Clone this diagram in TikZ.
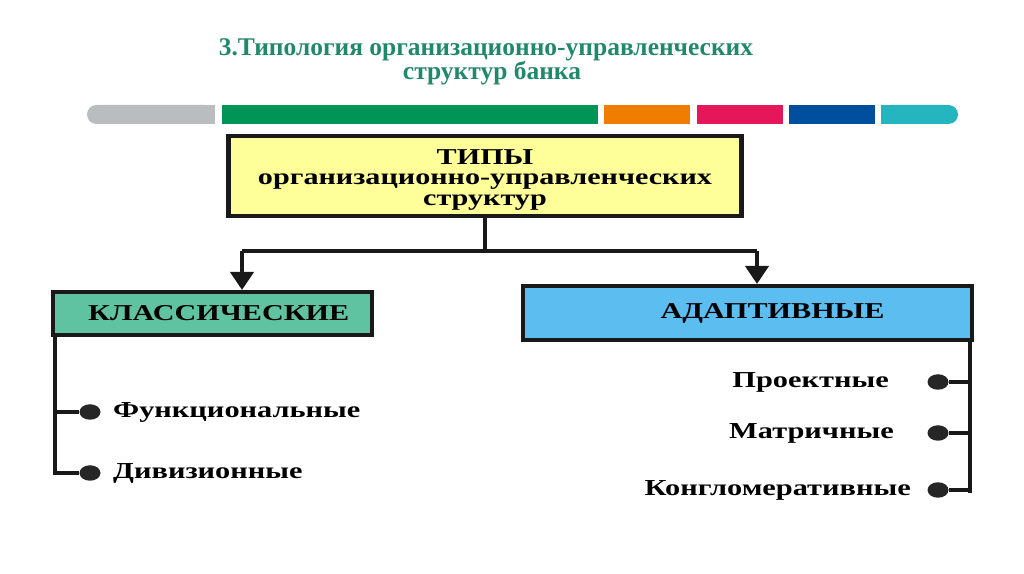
\documentclass[tikz,border=0pt]{standalone}
\usepackage{fontspec}
\setmainfont{Liberation Serif}
\usetikzlibrary{arrows.meta,positioning,shapes.geometric}
\definecolor{tyhead}{HTML}{21896B}
\definecolor{tyyellow}{HTML}{FFFF99}
\definecolor{tyclassic}{HTML}{5FC3A2}
\definecolor{tyadapt}{HTML}{5BBDF0}
\definecolor{bargray}{HTML}{B9BDC0}
\definecolor{bargreen}{HTML}{009456}
\definecolor{barorange}{HTML}{F07D00}
\definecolor{barpink}{HTML}{E5175A}
\definecolor{barblue}{HTML}{004F9F}
\definecolor{barteal}{HTML}{25B5BE}
\tikzset{
  hdr/.style={text=tyhead, align=center, font=\bfseries\fontsize{14.5}{13.6}\selectfont},
  topbox/.style={draw=black!90, line width=2.3pt, fill=tyyellow, align=center, minimum width=10.26cm, minimum height=1.56cm, font=\bfseries\fontsize{12.9}{11.6}\selectfont\addfontfeatures{FakeStretch=1.33}},
  catbox/.style={draw=black!90, line width=2.3pt, minimum height=8.6mm, font=\bfseries\fontsize{12.9}{13}\selectfont\addfontfeatures{FakeStretch=1.33}},
  item/.style={inner sep=0pt, font=\bfseries\fontsize{13}{13}\selectfont\addfontfeatures{FakeStretch=1.33}},
  dot/.style={ellipse, fill=black!85, minimum width=4.2mm, minimum height=3.1mm, inner sep=0pt},
  link/.style={line width=2.3pt, color=black!90},
  arr/.style={link, -{Triangle[width=4.6mm,length=3.6mm]}},
}
\begin{document}
\begin{tikzpicture}[x=0.2mm,y=-0.2mm]
  \useasboundingbox (0,0) rectangle (1024,574);
  \node[hdr] (title) at (486,62) {3.Типология организационно-управленческих\\\hspace*{2.4mm}структур банка};
  % colour strip
  \fill[bargray, rounded corners=1.9mm] (87,105) rectangle (215,124);
  \fill[bargray] (190,105) rectangle (215,124);
  \foreach \a/\b/\c in {222/598/bargreen,604/690/barorange,697/783/barpink,789/875/barblue}
    { \fill[\c] (\a,105) rectangle (\b,124); }
  \fill[barteal, rounded corners=1.9mm] (881,105) rectangle (958,124);
  \fill[barteal] (881,105) rectangle (910,124);
  % boxes
  \node[topbox] (types) at (485,176) {\rule{0pt}{4.5mm}ТИПЫ\\организационно-управленческих\\структур};
  \node[catbox, fill=tyclassic, minimum width=6.38cm] (cls) at (212.5,313.5) {\hspace*{2.5mm}КЛАССИЧЕСКИЕ};
  \node[catbox, fill=tyadapt, minimum width=8.98cm, minimum height=1.08cm] (ada) at (747.5,313) {\hspace*{10mm}АДАПТИВНЫЕ};
  \coordinate (jl) at (242,251);
  \coordinate (jr) at (757,251);
  \draw[link] (types.south) -- (types.south |- jl);
  \draw[link] (jl) -- (jr);
  \draw[arr] (jl) -- (jl |- cls.north);
  \draw[arr] (jr) -- (jr |- ada.north);
  % classic branch
  \node[dot] (ld1) at (90,412) {};
  \node[dot] (ld2) at (90,473) {};
  \node[item, right=2.4mm of ld1] (func) {Функциональные};
  \node[item, right=2.4mm of ld2] (divis) {Дивизионные};
  \coordinate (lspine) at (55,475);
  \draw[link] (cls.south west -| lspine) -- (lspine);
  \draw[link] (lspine |- ld1) -- (ld1);
  \draw[link] (lspine |- ld2) -- (ld2);
  % adaptive branch
  \node[dot] (rd1) at (938,382) {};
  \node[dot] (rd2) at (938,433) {};
  \node[dot] (rd3) at (938,490) {};
  \node[item, left=7.6mm of rd1] (proj) {Проектные};
  \node[item, left=6.6mm of rd2] (matr) {Матричные};
  \node[item, left=3.2mm of rd3] (konl) {Конгломеративные};
  \coordinate (rspine) at (970,493);
  \draw[link] (ada.south east -| rspine) -- (rspine);
  \draw[link] (rspine |- rd1) -- (rd1);
  \draw[link] (rspine |- rd2) -- (rd2);
  \draw[link] (rspine |- rd3) -- (rd3);
\end{tikzpicture}
\end{document}
